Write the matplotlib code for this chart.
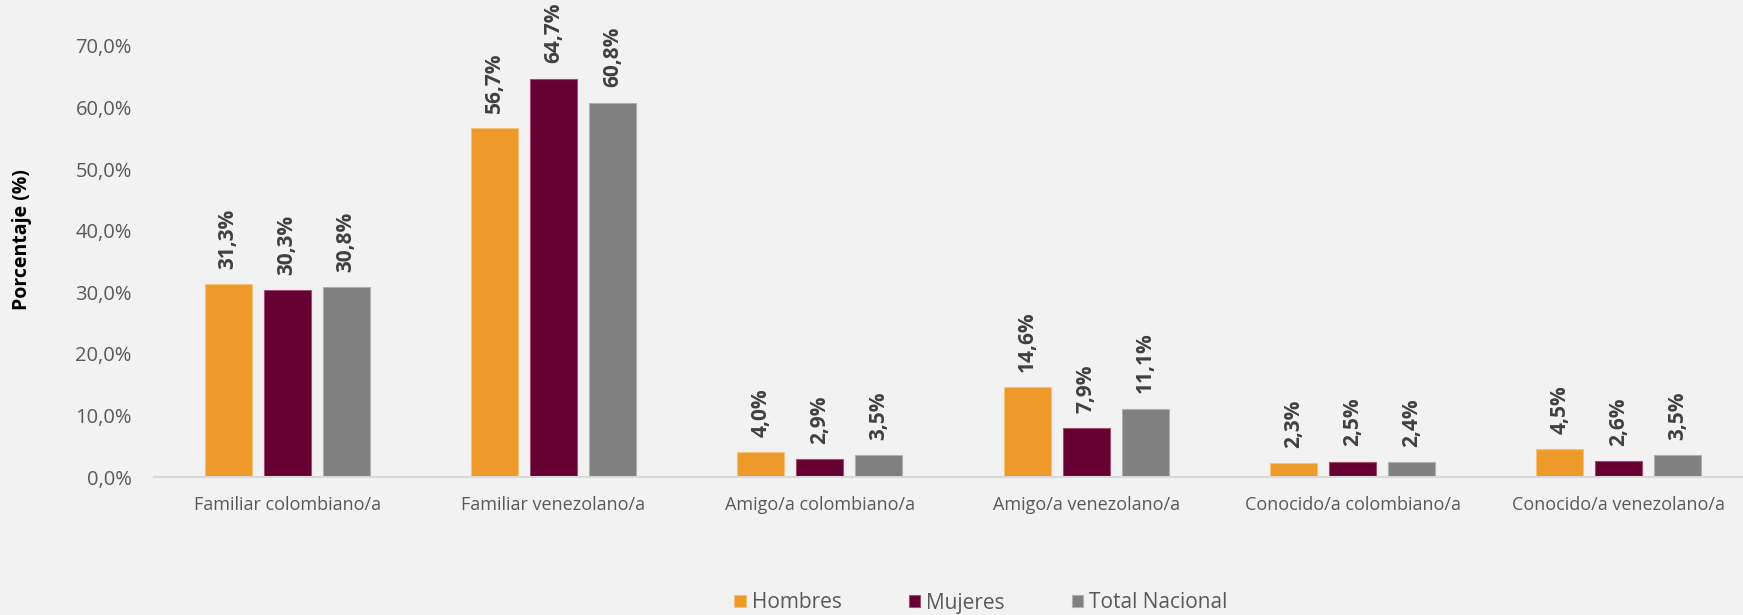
import matplotlib.pyplot as plt
import numpy as np

# Data
categories = ["Familiar colombiano/a", "Familiar venezolano/a", "Amigo/a colombiano/a",
              "Amigo/a venezolano/a", "Conocido/a colombiano/a", "Conocido/a venezolano/a"]
hombres = [31.3, 56.7, 4.0, 14.6, 2.3, 4.5]
mujeres = [30.3, 64.7, 2.9, 7.9, 2.5, 2.6]
total_nacional = [30.8, 60.8, 3.5, 11.1, 2.4, 3.5]
series_names = ["Hombres", "Mujeres", "Total Nacional"]
colors = ["#EE9A2B", "#660033", "#808080"]
edge_colors = ["#F5C07A", "#A0506E", "#B0B0B0"]
yticks = [0, 10, 20, 30, 40, 50, 60, 70]

BG = "#F2F2F2"
plt.rcParams['font.family'] = ['Open Sans', 'DejaVu Sans']


def fmt(v):
    return f"{v:.1f}".replace('.', ',') + '%'


fig = plt.figure(figsize=(17.43, 6.15), dpi=100)
fig.patch.set_facecolor(BG)
ax = fig.add_axes([154 / 1743, 138 / 615, 1 - 154 / 1743, 431 / 615])
ax.set_facecolor(BG)

x = np.arange(len(categories))
width = 0.176
step = 0.2214
all_series = [hombres, mujeres, total_nacional]

for i, (vals, name) in enumerate(zip(all_series, series_names)):
    pos = x + (i - 1) * step
    bars = ax.bar(pos, vals, width, color=colors[i], edgecolor=edge_colors[i],
                  linewidth=0.8, label=name, zorder=2)
    for b, v in zip(bars, vals):
        ax.annotate(fmt(v), (b.get_x() + b.get_width() / 2, v),
                    xytext=(0, 11), textcoords='offset points',
                    rotation=90, ha='center', va='bottom',
                    fontsize=15, fontweight='bold', color='#404040')

ax.set_xlim(-0.5, 5.5 - 0.034)
ax.set_ylim(0, 70)
ax.set_yticks(yticks)
ax.set_yticklabels([fmt(t) for t in yticks], fontsize=14.5, color='#595959')
ax.set_xticks(x)
ax.set_xticklabels(categories, fontsize=13, color='#595959')
ax.tick_params(axis='both', length=0)
ax.tick_params(axis='y', pad=16)
ax.tick_params(axis='x', pad=14)

for s in ['top', 'right', 'left']:
    ax.spines[s].set_visible(False)
ax.spines['bottom'].set_color('#D9D9D9')
ax.spines['bottom'].set_linewidth(1.5)

fig.text(22 / 1743, 1 - 240 / 615, "Porcentaje (%)", rotation=90, ha='center', va='center',
         fontsize=14, fontweight='bold', color='black')

leg = fig.legend(loc='center', bbox_to_anchor=(981 / 1743, 1 - 603 / 615), ncol=3,
                 frameon=False, fontsize=15, handlelength=0.55, handleheight=0.55,
                 handletextpad=0.3, columnspacing=3.2, labelcolor='#595959')

plt.savefig('out.png', dpi=100, facecolor=BG)
